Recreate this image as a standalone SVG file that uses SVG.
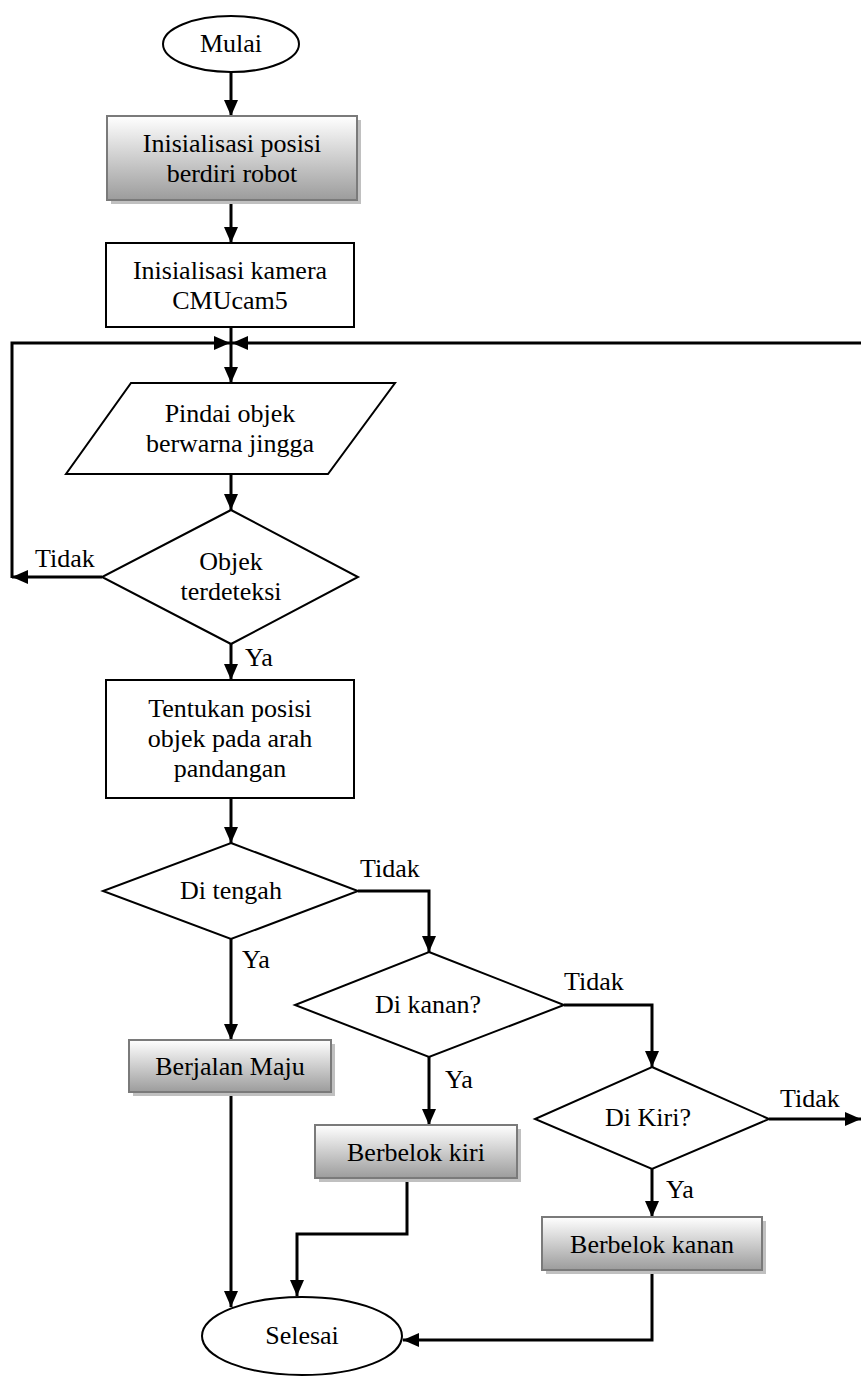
<svg xmlns="http://www.w3.org/2000/svg" width="861" height="1376" viewBox="0 0 861 1376">
<defs>
<linearGradient id="g" x1="0" y1="0" x2="0" y2="1">
<stop offset="0" stop-color="#ffffff"/>
<stop offset="1" stop-color="#9c9c9c"/>
</linearGradient>
<marker id="a" markerWidth="16" markerHeight="14" refX="16" refY="7" orient="auto" markerUnits="userSpaceOnUse">
<path d="M0,0 L16,7 L0,14 Z" fill="#000"/>
</marker>
</defs>
<style>
text{font-family:"Liberation Serif","Times New Roman",serif;font-size:26px;fill:#000;text-anchor:middle}
.lb{text-anchor:start}
.sh{fill:#c0c0c0}
.gb{fill:url(#g);stroke:#7a7a7a;stroke-width:2}
.wb{fill:#fff;stroke:#000;stroke-width:2}
.c{fill:none;stroke:#000;stroke-width:3;marker-end:url(#a)}
</style>
<rect width="861" height="1376" fill="#fff"/>
<g id="connectors">
<path class="c" d="M231,72 V116"/>
<path class="c" d="M231,200 V243"/>
<path class="c" d="M231,327 V383"/>
<path class="c" d="M231,474 V510"/>
<path class="c" d="M102,577 H12"/>
<path class="c" d="M12,578 V343 H230"/>
<path class="c" d="M861,343 H232"/>
<path class="c" d="M231,644 V680"/>
<path class="c" d="M231,798 V843"/>
<path class="c" d="M231,939 V1040"/>
<path class="c" d="M358,891 H429 V952"/>
<path class="c" d="M429,1057 V1125"/>
<path class="c" d="M564,1005 H652 V1067"/>
<path class="c" d="M769,1119 H861"/>
<path class="c" d="M652,1169 V1217"/>
<path class="c" d="M231,1092 V1307"/>
<path class="c" d="M407,1178 V1234 H297 V1296"/>
<path class="c" d="M652,1270 V1340 H403"/>
</g>
<g id="mulai">
<ellipse cx="231" cy="44" rx="68" ry="28" class="wb"/>
<text x="231" y="52">Mulai</text>
</g>
<g id="init-posisi">
<rect x="111" y="120" width="250" height="84" class="sh"/>
<rect x="107" y="116" width="250" height="84" class="gb"/>
<text x="232" y="152">Inisialisasi posisi</text>
<text x="232" y="182">berdiri robot</text>
</g>
<g id="init-kamera">
<rect x="106" y="243" width="248" height="84" class="wb"/>
<text x="230" y="279">Inisialisasi kamera</text>
<text x="230" y="309">CMUcam5</text>
</g>
<g id="pindai">
<polygon points="131,383 395,383 328,474 66,474" class="wb"/>
<text x="230" y="422">Pindai objek</text>
<text x="230" y="452">berwarna jingga</text>
</g>
<g id="objek-terdeteksi">
<polygon points="231,510 358,577 231,644 102,577" class="wb"/>
<text x="231" y="570">Objek</text>
<text x="231" y="600">terdeteksi</text>
<text x="35" y="567" class="lb">Tidak</text>
<text x="245" y="666" class="lb">Ya</text>
</g>
<g id="tentukan">
<rect x="106" y="680" width="248" height="118" class="wb"/>
<text x="230" y="717">Tentukan posisi</text>
<text x="230" y="747">objek pada arah</text>
<text x="230" y="777">pandangan</text>
</g>
<g id="di-tengah">
<polygon points="231,843 358,891 231,939 103,891" class="wb"/>
<text x="231" y="899">Di tengah</text>
<text x="360" y="877" class="lb">Tidak</text>
<text x="242" y="968" class="lb">Ya</text>
</g>
<g id="di-kanan">
<polygon points="429,952 564,1005 429,1057 295,1005" class="wb"/>
<text x="428" y="1013">Di kanan?</text>
<text x="564" y="990" class="lb">Tidak</text>
<text x="445" y="1088" class="lb">Ya</text>
</g>
<g id="di-kiri">
<polygon points="652,1067 769,1119 652,1169 535,1119" class="wb"/>
<text x="648" y="1126">Di Kiri?</text>
<text x="780" y="1107" class="lb">Tidak</text>
<text x="666" y="1198" class="lb">Ya</text>
</g>
<g id="berjalan-maju">
<rect x="133" y="1044" width="202" height="52" class="sh"/>
<rect x="129" y="1040" width="202" height="52" class="gb"/>
<text x="230" y="1075">Berjalan Maju</text>
</g>
<g id="berbelok-kiri">
<rect x="319" y="1129" width="202" height="53" class="sh"/>
<rect x="315" y="1125" width="202" height="53" class="gb"/>
<text x="416" y="1161">Berbelok kiri</text>
</g>
<g id="berbelok-kanan">
<rect x="546" y="1221" width="220" height="53" class="sh"/>
<rect x="542" y="1217" width="220" height="53" class="gb"/>
<text x="652" y="1253">Berbelok kanan</text>
</g>
<g id="selesai">
<ellipse cx="302" cy="1336" rx="100" ry="39" class="wb"/>
<text x="302" y="1344">Selesai</text>
</g>
</svg>
